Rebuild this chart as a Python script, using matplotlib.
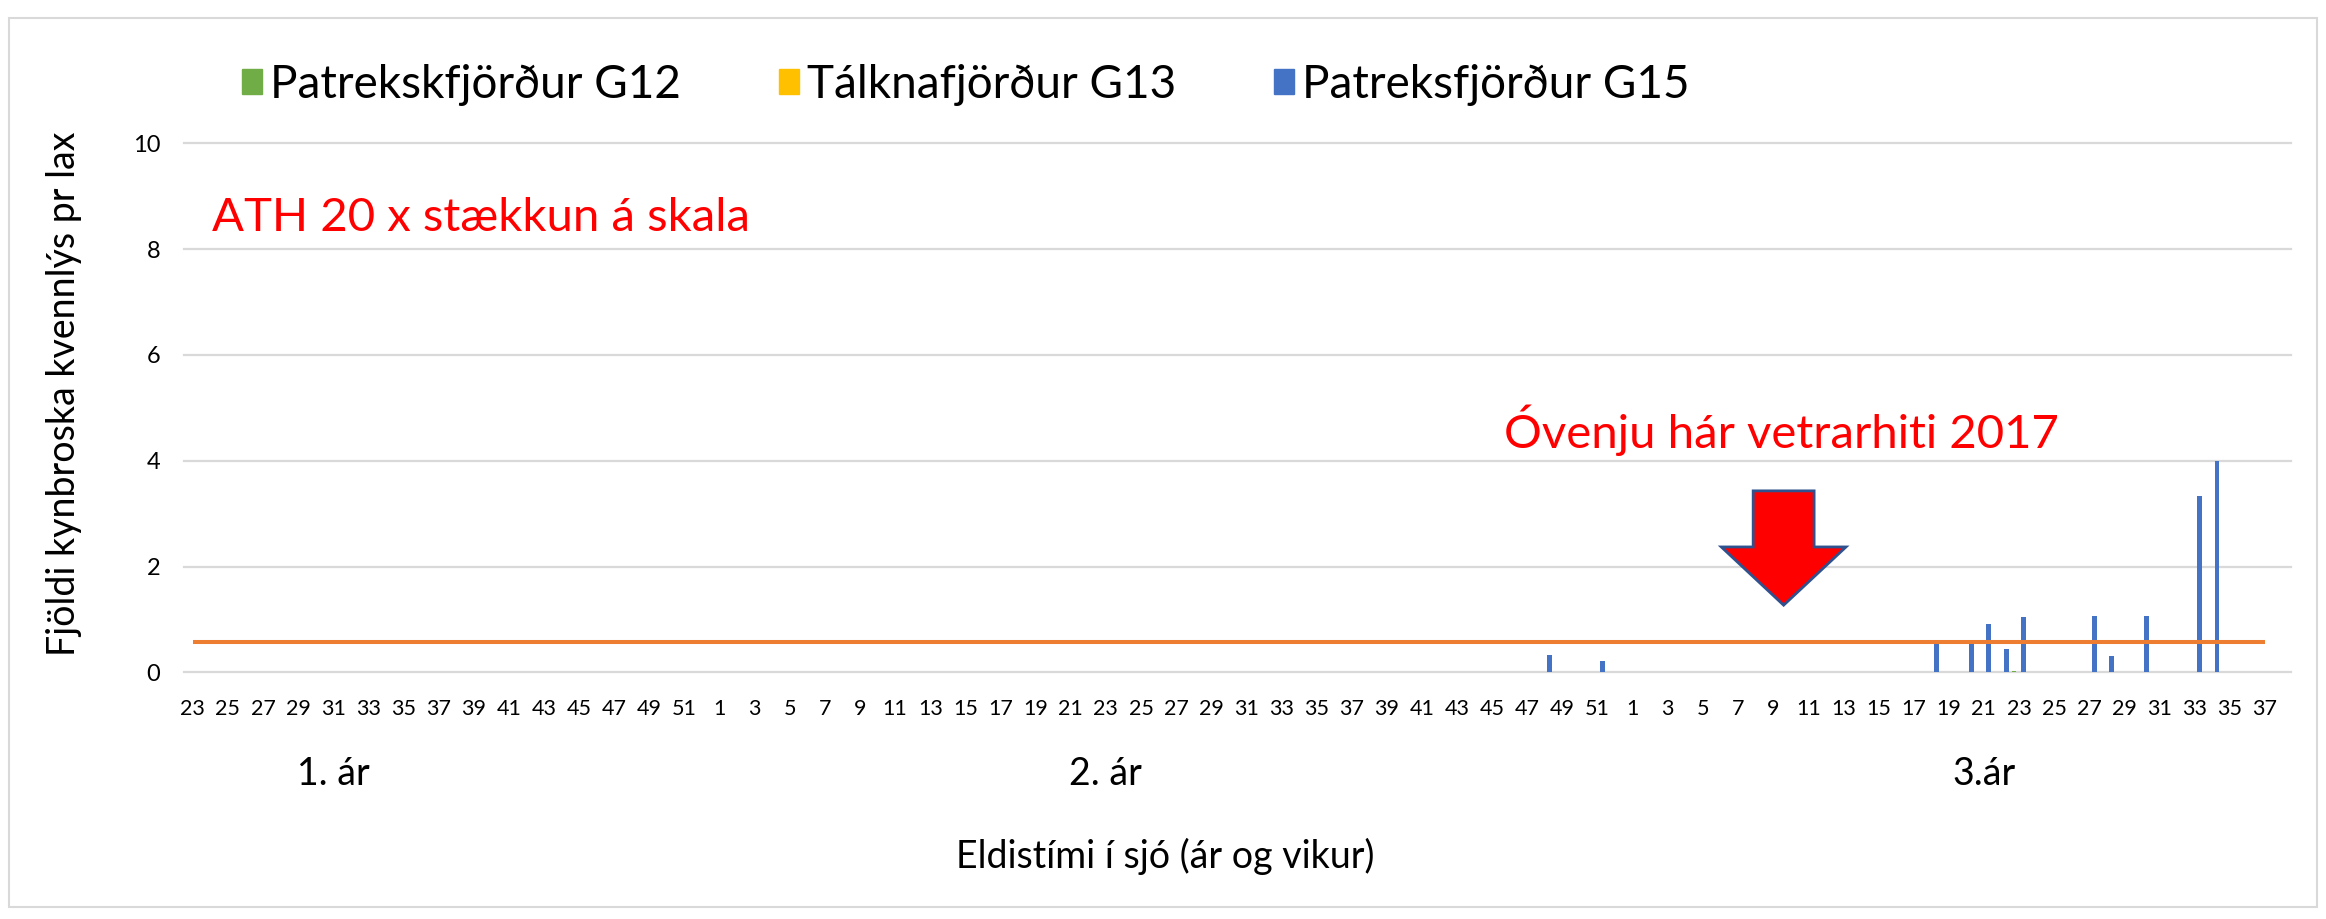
import numpy as np
import matplotlib
matplotlib.use('Agg')
import matplotlib.pyplot as plt
from matplotlib.patches import Patch, Rectangle, FancyArrow

plt.rcParams['font.family'] = ['Lato', 'DejaVu Sans']

# vikur: 1. ár frá viku 23, 2. ár allt árið, 3. ár til viku 38
ar1_vikur = list(range(23, 53))
ar2_vikur = list(range(1, 53))
ar3_vikur = list(range(1, 39))
vikur = ar1_vikur + ar2_vikur + ar3_vikur
ar_nr = [1] * len(ar1_vikur) + [2] * len(ar2_vikur) + [3] * len(ar3_vikur)

# mæld gildi (ár, vika, fjöldi)
g12_ar = [3]
g12_vika = [23]
g12_gildi = [0.03]

g13_ar = []
g13_vika = []
g13_gildi = []

g15_ar = [2, 2, 3, 3, 3, 3, 3, 3, 3, 3, 3, 3]
g15_vika = [48, 51, 18, 20, 21, 22, 23, 27, 28, 30, 33, 34]
g15_gildi = [0.33, 0.21, 0.60, 0.60, 0.91, 0.45, 1.04, 1.07, 0.31, 1.07, 3.33, 4.00]

# viðmiðunarlína (appelsínugul)
mork = 0.57
mork_sidasta_vika = (3, 37)

ar_merki = ['1. ár', '2. ár', '3.ár']
ar_merki_vika = [(1, 31), (2, 23), (3, 21)]

litir = {'G12': '#70AD47', 'G13': '#FFC000', 'G15': '#4472C4'}
heiti = {'G12': 'Patrekskfjörður G12', 'G13': 'Tálknafjörður G13', 'G15': 'Patreksfjörður G15'}


def index_of(ar, vika):
	for i in range(len(vikur)):
		if ar_nr[i] == ar and vikur[i] == vika:
			return i
	return None


def series(ar_list, vika_list, gildi_list):
	y = np.zeros(len(vikur))
	for a, v, g in zip(ar_list, vika_list, gildi_list):
		y[index_of(a, v)] = g
	return y


n = len(vikur)
x = np.arange(n)
g12 = series(g12_ar, g12_vika, g12_gildi)
g13 = series(g13_ar, g13_vika, g13_gildi)
g15 = series(g15_ar, g15_vika, g15_gildi)
mork_lina = np.full(n, np.nan)
mork_lina[:index_of(*mork_sidasta_vika) + 1] = mork

fig = plt.figure(figsize=(23.26, 9.19), dpi=100)
ax = fig.add_axes([0.0791, 0.2684, 0.9059, 0.5757])

bw = 0.28
ax.bar(x - bw, g12, bw, color=litir['G12'], zorder=2)
ax.bar(x, g13, bw, color=litir['G13'], zorder=2)
ax.bar(x + bw, g15, bw, color=litir['G15'], zorder=2)
ax.plot(x, mork_lina, color='#ED7D31', lw=2.9, solid_capstyle='butt', zorder=3)

ax.set_xlim(-0.5, n - 0.5)
ax.set_ylim(0, 10)
ax.set_yticks(np.arange(0, 11, 2))
ax.set_xticks(x[::2])
ax.set_xticklabels([str(v) for v in vikur[::2]])
ax.tick_params(axis='x', length=0, pad=19, labelsize=15.5)
ax.tick_params(axis='y', length=0, pad=17, labelsize=17)
for s in ax.spines.values():
	s.set_visible(False)
ax.set_axisbelow(True)
ax.yaxis.grid(True, color='#d9d9d9', lw=1.6)
for gl in ax.get_ygridlines():
	gl.set_clip_on(False)

# ár undir ásnum
for txt, (a, v) in zip(ar_merki, ar_merki_vika):
	ax.text(index_of(a, v), -1.92, txt, ha='center', va='center', fontsize=27, clip_on=False)

ax.set_xlabel('Eldistími í sjó (ár og vikur)', fontsize=27, va='center')
ax.xaxis.set_label_coords(0.4655, -0.347)
ax.set_ylabel('Fjöldi kynbroska kvennlýs pr lax', fontsize=27, va='center')
ax.yaxis.set_label_coords(-0.057, 0.526)

ax.text(1.08, 8.59, 'ATH 20 x stækkun á skala', color='#FF0000', fontsize=34, ha='left', va='center')
ax.text(74.7, 4.58, 'Óvenju hár vetrarhiti 2017', color='#FF0000', fontsize=34, ha='left', va='center')
ax.add_patch(FancyArrow(90.6, 3.43, 0, -2.16, width=3.47, head_width=7.1, head_length=1.10,
	length_includes_head=True, facecolor='#FF0000', edgecolor='#2F528F', lw=2, zorder=4, clip_on=False))

handles = [Patch(color=litir[k]) for k in ['G12', 'G13', 'G15']]
labels = [heiti[k] for k in ['G12', 'G13', 'G15']]
fig.legend(handles, labels, loc='center left', bbox_to_anchor=(0.104, 0.9075), ncol=3, frameon=False,
	fontsize=33, handlelength=0.44, handleheight=0.44, handletextpad=0.17, columnspacing=2.14,
	borderpad=0, borderaxespad=0)

fig.patches.append(Rectangle((9 / 2326, 1 - 907 / 919), 2308 / 2326, 889 / 919, transform=fig.transFigure,
	fill=False, ec='#d9d9d9', lw=1.5))

fig.savefig('out.png', dpi=100)
